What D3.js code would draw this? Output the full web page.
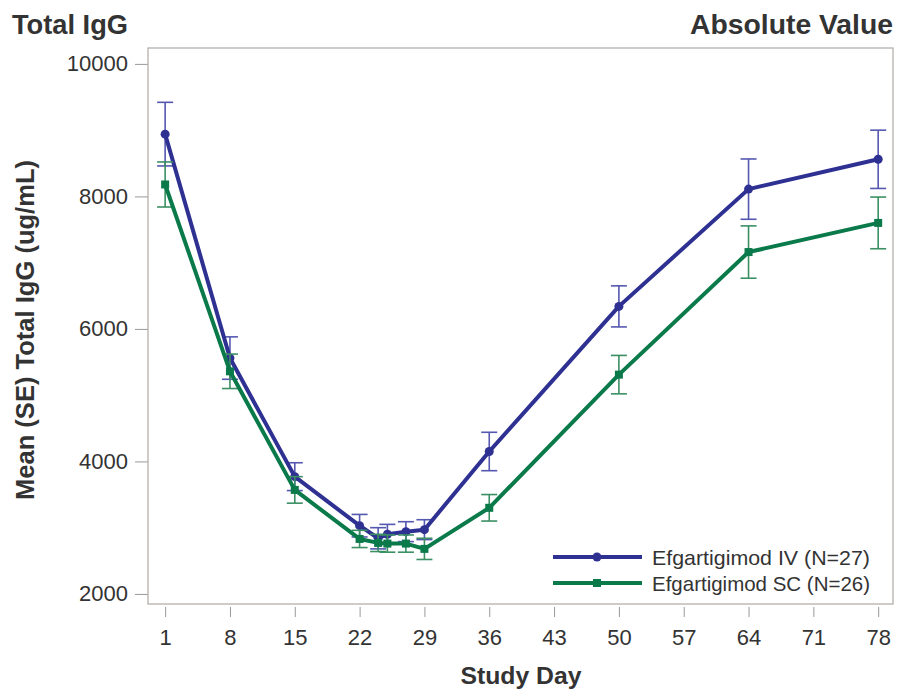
<!DOCTYPE html>
<html>
<head>
<meta charset="utf-8">
<script src="https://cdn.jsdelivr.net/npm/d3@7"></script>
<style>
  body { margin: 0; background: #fff; }
  text { font-family: "Liberation Sans", Arial, sans-serif; fill: #333; }
</style>
</head>
<body>
<svg width="899" height="691"></svg>
<script>
var days = [1, 8, 15, 22, 24, 25, 27, 29, 36, 50, 64, 78];
var ivMean = [8940, 5560, 3770, 3030, 2840, 2900, 2940, 2970, 4150, 6340, 8110, 8560];
var ivSE   = [480, 320, 210, 170, 160, 150, 150, 150, 290, 310, 455, 440];
var scMean = [8180, 5360, 3570, 2830, 2770, 2760, 2760, 2680, 3300, 5310, 7160, 7600];
var scSE   = [340, 260, 200, 130, 130, 130, 130, 160, 200, 290, 395, 390];
var xTicks = [1, 8, 15, 22, 29, 36, 43, 50, 57, 64, 71, 78];
var yTicks = [2000, 4000, 6000, 8000, 10000];

var series = [
  {name: "Efgartigimod IV (N=27)", color: "#2e3192", bar: "#5558b0", shape: "circle", mean: ivMean, se: ivSE},
  {name: "Efgartigimod SC (N=26)", color: "#0b7a4b", bar: "#3b8f63", shape: "square", mean: scMean, se: scSE}
];

var svg = d3.select("svg");
var margin = {top: 48, right: 6, bottom: 87, left: 148};
var width = 899 - margin.left - margin.right,
    height = 691 - margin.top - margin.bottom;

var x = d3.scaleLinear().domain([-0.85, 79.6]).range([0, width]);
var y = d3.scaleLinear().domain([1848, 10240]).range([height, 0]);

var g = svg.append("g").attr("transform", "translate(" + margin.left + "," + margin.top + ")");

// titles
svg.append("text").attr("x", 12).attr("y", 34)
    .attr("textLength", 116).attr("lengthAdjust", "spacingAndGlyphs")
    .style("font-size", "27px").style("font-weight", "bold").text("Total IgG");
svg.append("text").attr("x", 893).attr("y", 34).attr("text-anchor", "end")
    .attr("textLength", 203).attr("lengthAdjust", "spacingAndGlyphs")
    .style("font-size", "27px").style("font-weight", "bold").text("Absolute Value");

// axes
var xAxis = g.append("g")
    .attr("transform", "translate(0," + (height + 3) + ")")
    .call(d3.axisBottom(x).tickValues(xTicks).tickSize(10).tickPadding(12).tickSizeOuter(0));
var yAxis = g.append("g")
    .call(d3.axisLeft(y).tickValues(yTicks).tickFormat(d3.format("d")).tickSize(13).tickPadding(7).tickSizeOuter(0));
[xAxis, yAxis].forEach(function(a) {
  a.select(".domain").remove();
  a.selectAll(".tick line").attr("stroke", "#999");
  a.selectAll(".tick text").style("font-size", "22px").style("fill", "#333").style("font-family", "Liberation Sans, Arial, sans-serif");
});

// frame
g.append("rect").attr("width", width).attr("height", height)
    .attr("fill", "none").attr("stroke", "#b5b0ab").attr("stroke-width", 1.3);

svg.append("text")
    .attr("transform", "translate(34," + (margin.top + height / 2 + 4) + ") rotate(-90)")
    .attr("text-anchor", "middle").attr("textLength", 340).attr("lengthAdjust", "spacingAndGlyphs")
    .style("font-size", "25px").style("font-weight", "bold")
    .text("Mean (SE) Total IgG (ug/mL)");
svg.append("text").attr("x", 521).attr("y", 684).attr("text-anchor", "middle")
    .attr("textLength", 121).attr("lengthAdjust", "spacingAndGlyphs")
    .style("font-size", "23px").style("font-weight", "bold").text("Study Day");

var line = d3.line().x(function(d) { return x(d.day); }).y(function(d) { return y(d.mean); });

series.forEach(function(s) {
  var pts = days.map(function(d, i) { return {day: d, mean: s.mean[i], se: s.se[i]}; });
  var sg = g.append("g");
  var eb = sg.selectAll(".eb").data(pts).enter().append("g")
      .attr("stroke", s.bar).attr("stroke-width", 1.6);
  eb.append("line")
      .attr("x1", function(d) { return x(d.day); }).attr("x2", function(d) { return x(d.day); })
      .attr("y1", function(d) { return y(d.mean - d.se); }).attr("y2", function(d) { return y(d.mean + d.se); });
  [-1, 1].forEach(function(k) {
    eb.append("line")
        .attr("x1", function(d) { return x(d.day) - 8; }).attr("x2", function(d) { return x(d.day) + 8; })
        .attr("y1", function(d) { return y(d.mean + k * d.se); }).attr("y2", function(d) { return y(d.mean + k * d.se); });
  });
  sg.append("path").datum(pts).attr("d", line)
      .attr("fill", "none").attr("stroke", s.color).attr("stroke-width", 4).attr("stroke-linejoin", "round");
  if (s.shape === "circle") {
    sg.selectAll(".m").data(pts).enter().append("circle")
        .attr("cx", function(d) { return x(d.day); }).attr("cy", function(d) { return y(d.mean); })
        .attr("r", 4.5).attr("fill", s.color);
  } else {
    sg.selectAll(".m").data(pts).enter().append("rect")
        .attr("x", function(d) { return x(d.day) - 4; }).attr("y", function(d) { return y(d.mean) - 4; })
        .attr("width", 8).attr("height", 8).attr("fill", s.color);
  }
});

// legend
var leg = g.append("g").attr("transform", "translate(" + (553 - margin.left) + "," + (557 - margin.top) + ")");
series.forEach(function(s, i) {
  var row = leg.append("g").attr("transform", "translate(0," + (i * 26) + ")");
  row.append("line").attr("x1", 0).attr("x2", 89).attr("stroke", s.color).attr("stroke-width", 4);
  if (s.shape === "circle") row.append("circle").attr("cx", 44).attr("r", 4.5).attr("fill", s.color);
  else row.append("rect").attr("x", 40).attr("y", -4).attr("width", 8).attr("height", 8).attr("fill", s.color);
  row.append("text").attr("x", 99).attr("y", 8).attr("textLength", 218).attr("lengthAdjust", "spacingAndGlyphs")
      .style("font-size", "21px").text(s.name);
});
</script>
</body>
</html>
